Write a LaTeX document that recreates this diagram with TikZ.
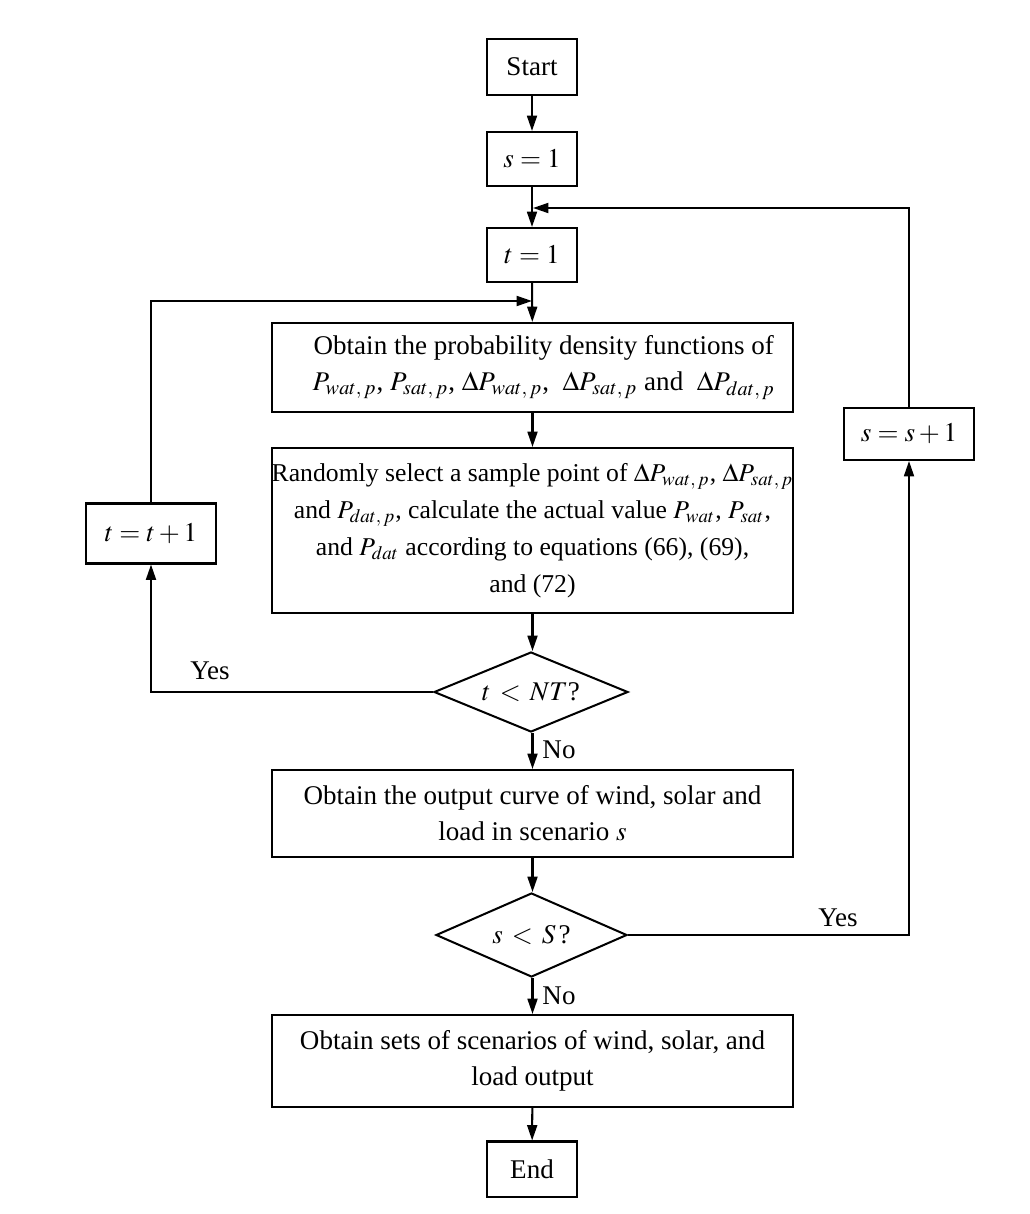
\documentclass[tikz,border=0pt]{standalone}
\usepackage{mathptmx}
\usepackage{fontspec}
\setmainfont{Liberation Serif}
\usetikzlibrary{shapes.geometric,arrows.meta}
\def\px{0.444pt}
\tikzset{
  base/.style={draw, line width=0.9pt, inner sep=0pt, font=\fontsize{12}{16}\selectfont, align=center},
  box/.style={base, rectangle},
  dec/.style={base, diamond, inner sep=0pt},
  arr/.style={line width=0.9pt, -{Triangle[length=6.8pt,width=4.4pt]}},
  lab/.style={font=\fontsize{12}{16}\selectfont, inner sep=0pt}
}
\begin{document}
\begin{tikzpicture}[x=0.444pt,y=-0.444pt]
\useasboundingbox (0,0) rectangle (1029,1214);
\node[box, minimum width={90*\px}, minimum height={56*\px}] (start) at (532,67) {Start};
\node[box, minimum width={90*\px}, minimum height={54*\px}] (s1) at (532,159) {$s = 1$};
\node[box, minimum width={90*\px}, minimum height={54*\px}] (t1) at (532,255) {$t = 1$};
\node[box, minimum width={521*\px}, minimum height={89*\px}] (b1) at (532.5,367.5)
  {\hspace*{10pt}Obtain the probability density functions of\\
   \hspace*{10pt}$P_{wat,\,p}$, $P_{sat,\,p}$, $\Delta P_{wat,\,p}$,\ \ $\Delta P_{sat,\,p}$ and\ \ $\Delta P_{dat,\,p}$};
\node[box, minimum width={521*\px}, minimum height={165*\px}, font=\fontsize{11.4}{16.4}\selectfont] (b2) at (532.5,530.5)
  {Randomly select a sample point of $\Delta P_{wat,\,p}$, $\Delta P_{sat,\,p}$\\
   and $P_{dat,\,p}$, calculate the actual value $P_{wat}$, $P_{sat}$,\\
   and $P_{dat}$ according to equations (66), (69),\\
   and (72)};
\node[dec, shape aspect=2.42, minimum width={194*\px}, minimum height={80*\px}] (d1) at (531,692) {$t \,<\, NT$?};
\node[box, minimum width={521*\px}, minimum height={87*\px}] (b3) at (532.5,813.5)
  {Obtain the output curve of wind, solar and\\ load in scenario $s$};
\node[dec, shape aspect=2.27, minimum width={191*\px}, minimum height={84*\px}] (d2) at (531.5,935) {$s \,<\, S\,$?};
\node[box, minimum width={521*\px}, minimum height={92*\px}] (b4) at (532.5,1061)
  {Obtain sets of scenarios of wind, solar, and\\ load output};
\node[box, minimum width={90*\px}, minimum height={55*\px}] (end) at (532,1169) {End};
\node[box, minimum width={130*\px}, minimum height={60*\px}] (tt) at (151,533.5) {$t = t + 1$};
\node[box, minimum width={130*\px}, minimum height={52*\px}] (ss) at (909,434) {$s = s + 1$};
\coordinate (j1) at (532,301);
\coordinate (j2) at (533,208);
\draw[arr] (start) -- (s1);
\draw[arr] (s1) -- (t1);
\draw[arr] (t1) -- (b1);
\draw[arr] (b1) -- (b2);
\draw[arr] (b2) -- (d1.north -| b2.south);
\draw[arr] (d1.south -| b3.north) -- (b3);
\draw[arr] (b3) -- (d2.north -| b3.south);
\draw[arr] (d2.south -| b4.north) -- (b4);
\draw[arr] (b4) -- (end);
\draw[arr] (d1.west) -| (tt.south);
\draw[arr] (tt.north) |- (j1);
\draw[arr] (d2.east) -| (ss.south);
\draw[arr] (ss.north) |- (j2);
\node[lab] (yes1) at (210,671) {Yes};
\node[lab] (no1) at (559,750) {No};
\node[lab] (yes2) at (838,918) {Yes};
\node[lab] (no2) at (559,996) {No};
\end{tikzpicture}
\end{document}
